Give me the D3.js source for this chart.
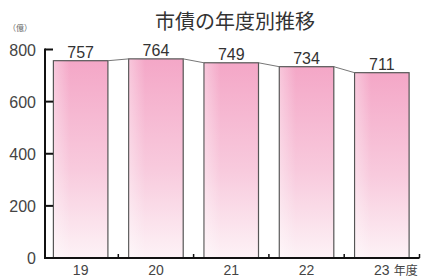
<!DOCTYPE html>
<html><head><meta charset="utf-8">
<script src="https://cdn.jsdelivr.net/npm/d3@7"></script>
<style>body{margin:0;background:#fff}svg{display:block}</style>
</head><body>
<script>
const categories = ["19","20","21","22","23"];
const values = [757, 764, 749, 734, 711];
const yTicks = [0, 200, 400, 600, 800];
const title = "市債の年度別推移";
const unitLabel = "（億）";
const xUnit = "年度";

const W = 429, H = 279;
const svg = d3.select("body").append("svg").attr("width", W).attr("height", H);
const defs = svg.append("defs");
const g = defs.append("linearGradient").attr("id","pink").attr("x1",0).attr("y1",0).attr("x2",0).attr("y2",1);
g.append("stop").attr("offset","0%").attr("stop-color","#f4a7c7");
g.append("stop").attr("offset","55%").attr("stop-color","#f8cadd");
g.append("stop").attr("offset","100%").attr("stop-color","#fdf2f6");
const g2 = defs.append("linearGradient").attr("id","side").attr("x1",0).attr("y1",0).attr("x2",1).attr("y2",0);
g2.append("stop").attr("offset","0%").attr("stop-color","#fff").attr("stop-opacity",0.35);
g2.append("stop").attr("offset","30%").attr("stop-color","#fff").attr("stop-opacity",0);
g2.append("stop").attr("offset","100%").attr("stop-color","#fff").attr("stop-opacity",0);

const x = d3.scaleBand().domain(categories).range([43, 419.5]).paddingInner(0.276).paddingOuter(0.138);
const y = d3.scaleLinear().domain([0, 800]).range([258, 49.5]);

const font = "'Liberation Sans', Arial, sans-serif";
const jfont = "'Noto Sans CJK JP', sans-serif";

// title
svg.append("text").attr("x", 235).attr("y", 29).attr("text-anchor","middle")
  .attr("font-family", jfont).attr("font-size", 20).attr("fill","#333").text(title);
svg.append("text").attr("x", 20).attr("y", 31).attr("text-anchor","middle")
  .attr("font-family", jfont).attr("font-size", 8).attr("fill","#666").text(unitLabel);

// bars
const data = categories.map((c,i)=>({c, v: values[i]}));
svg.selectAll("rect.bar").data(data).join("rect").attr("class","bar")
  .attr("x", d=>x(d.c)).attr("y", d=>y(d.v)).attr("width", x.bandwidth()).attr("height", d=>y(0)-y(d.v))
  .attr("fill","url(#pink)").attr("stroke","#555").attr("stroke-width",1.2);
svg.selectAll("rect.side").data(data).join("rect").attr("class","side")
  .attr("x", d=>x(d.c)+0.6).attr("y", d=>y(d.v)+0.6).attr("width", x.bandwidth()-1.2).attr("height", d=>y(0)-y(d.v)-1.2)
  .attr("fill","url(#side)");

// connectors
for (let i = 0; i < data.length-1; i++) {
  svg.append("line").attr("x1", x(data[i].c)+x.bandwidth()).attr("y1", y(data[i].v))
    .attr("x2", x(data[i+1].c)).attr("y2", y(data[i+1].v)).attr("stroke","#777").attr("stroke-width",1);
}

// value labels
svg.selectAll("text.val").data(data).join("text").attr("class","val")
  .attr("x", d=>x(d.c)+x.bandwidth()/2).attr("y", d=>y(d.v)-3).attr("text-anchor","middle")
  .attr("font-family", font).attr("font-size", 16).attr("fill","#333").text(d=>d.v);

// y axis
const axisX = 45;
svg.append("line").attr("x1",axisX).attr("x2",axisX).attr("y1",y(800)-1).attr("y2",y(0)+1).attr("stroke","#111").attr("stroke-width",2);
svg.selectAll("line.yt").data(yTicks.filter(t=>t>0)).join("line").attr("class","yt")
  .attr("x1",axisX).attr("x2",axisX+8).attr("y1",d=>y(d)).attr("y2",d=>y(d)).attr("stroke","#111").attr("stroke-width",2);
svg.selectAll("text.yl").data(yTicks).join("text").attr("class","yl")
  .attr("x", 36).attr("y", d=>y(d)+6).attr("text-anchor","end")
  .attr("font-family", font).attr("font-size", 16).attr("fill","#444").text(d=>d);

// x axis
svg.append("line").attr("x1",axisX-1).attr("x2",x.range()[1]).attr("y1",y(0)).attr("y2",y(0)).attr("stroke","#111").attr("stroke-width",2);
const step = x.step();
const bounds = categories.map((c,i)=>x.range()[0] + step*(i+1));
svg.selectAll("line.xt").data(bounds).join("line").attr("class","xt")
  .attr("x1",d=>d).attr("x2",d=>d).attr("y1",y(0)).attr("y2",y(0)-4).attr("stroke","#111").attr("stroke-width",1.5);
svg.selectAll("text.xl").data(categories).join("text").attr("class","xl")
  .attr("x", d=>x(d)+x.bandwidth()/2).attr("y", 275).attr("text-anchor","middle")
  .attr("font-family", font).attr("font-size", 14).attr("fill","#444").text(d=>d);
svg.append("text").attr("x", x("23")+x.bandwidth()/2+12).attr("y", 275)
  .attr("font-family", jfont).attr("font-size", 12).attr("fill","#444").text(xUnit);
</script>
</body></html>
